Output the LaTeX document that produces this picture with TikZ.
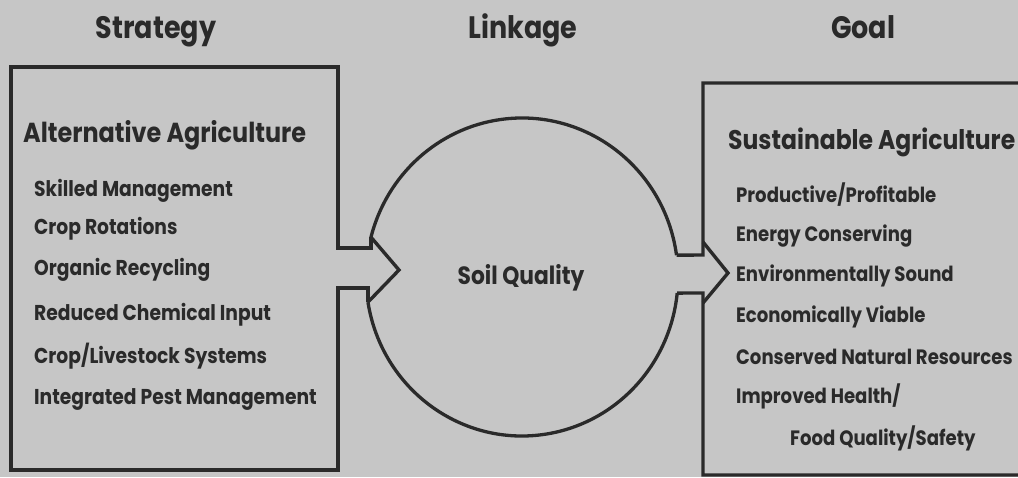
\documentclass[tikz,border=0pt]{standalone}
\usepackage{fontspec}
\usetikzlibrary{calc}
\setmainfont{Poppins}[FakeStretch=0.87]
\definecolor{paper}{RGB}{198,198,198}
\definecolor{ink}{RGB}{42,42,42}
\begin{document}
\begin{tikzpicture}[x=1pt,y=1pt,
  title/.style={font=\bfseries\fontsize{31}{36}\selectfont, text=ink, anchor=base, inner sep=0pt},
  head/.style={font=\bfseries\fontsize{27.5}{32}\selectfont, text=ink, anchor=base west, inner sep=0pt},
  item/.style={font=\bfseries\fontsize{21.5}{25}\selectfont, text=ink, anchor=base west, inner sep=0pt},
  ritem/.style={item, font=\bfseries\fontsize{20.8}{25}\selectfont},
  frame/.style={draw=ink, line width=3.4pt, line join=miter},
  ring/.style={draw=ink, line width=3.3pt}]
\fill[paper] (0,0) rectangle (1018,477);
\useasboundingbox (0,0) rectangle (1018,477);

% column titles
\node[title] (strategy) at (156,438) {Strategy};
\node[title] (linkage)  at (523,438) {Linkage};
\node[title] (goal)     at (863,438) {Goal};

% soil quality ring, open where the two arrows meet it
\coordinate (C) at (522,200);
\coordinate (lt) at ($(C)+(165.5:156pt and 159pt)$);
\coordinate (lb) at ($(C)+(189.1:156pt and 159pt)$);
\coordinate (rt) at ($(C)+(7.9:156pt and 159pt)$);
\coordinate (rb) at ($(C)+(-5.8:156pt and 159pt)$);
\draw[ring] (lb) arc[start angle=189.1, end angle=354.2, x radius=156pt, y radius=159pt];
\draw[ring] (rt) arc[start angle=7.9, end angle=165.5, x radius=156pt, y radius=159pt];
\node[font=\bfseries\fontsize{25}{30}\selectfont, text=ink] (soil) at (521,199) {Soil Quality};

% strategy box with its arrow into the ring
\coordinate (ltip) at (399,207);
\draw[frame] (lt) -- (lt |- 0,229) -- (338,229) -- (338,410) -- (11,410)
  -- (11,7) -- (338,7) -- (338,189) -- (lb |- 0,189) -- (lb);
\draw[frame] (lt) -- (ltip) -- (lb);

% goal box with the arrow out of the ring
\coordinate (rtip) at (728,204);
\draw[frame] (rt) -- (703,222) -- (703,394) -- (1030,394);
\draw[frame] (rb) -- (703,184) -- (703,2) -- (1030,2);
\draw[frame] (703,235) -- (rtip) -- (703,174);

% strategy list
\node[head] (alt) at (23,334) {Alternative Agriculture};
\node[item] (s1) at (34,280) {Skilled Management};
\node[item] (s2) at (34,242) {Crop Rotations};
\node[item] (s3) at (34,201) {Organic Recycling};
\node[item] (s4) at (34,156) {Reduced Chemical Input};
\node[item] (s5) at (34,113) {Crop/Livestock Systems};
\node[item] (s6) at (34,72)  {Integrated Pest Management};

% goal list
\node[head, font=\bfseries\fontsize{27}{32}\selectfont] (sus) at (728,327) {Sustainable Agriculture};
\node[ritem] (g1) at (736,274) {Productive/Profitable};
\node[ritem] (g2) at (736,235) {Energy Conserving};
\node[ritem] (g3) at (736,195) {Environmentally Sound};
\node[ritem] (g4) at (736,154) {Economically Viable};
\node[ritem] (g5) at (736,112) {Conserved Natural Resources};
\node[ritem] (g6) at (736,74)  {Improved Health/};
\node[ritem] (g7) at (790,32)  {Food Quality/Safety};
\end{tikzpicture}
\end{document}
